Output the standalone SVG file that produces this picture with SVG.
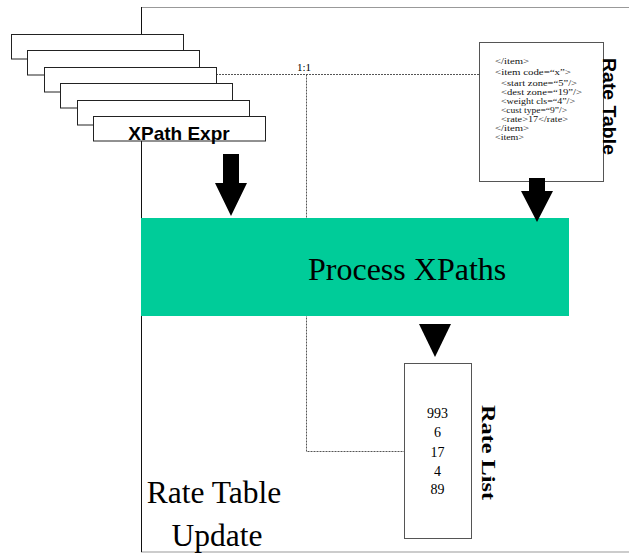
<svg xmlns="http://www.w3.org/2000/svg" width="629" height="554" viewBox="0 0 629 554">
  <style>
    .card { fill: #ffffff; stroke: #222222; stroke-width: 1; }
    .box { fill: #ffffff; stroke: #555555; stroke-width: 1; }
    .frame { stroke: #999999; stroke-width: 1.2; fill: none; }
    .dotted { stroke: #555555; stroke-width: 1; stroke-dasharray: 2 1; fill: none; }
    .arrow { fill: #000000; }
    .serif { font-family: "Liberation Serif", "Times New Roman", serif; fill: #000000; }
    .sans { font-family: "Liberation Sans", Arial, sans-serif; font-weight: bold; fill: #000000; }
    .xml { font-family: "Liberation Serif", "Times New Roman", serif; font-size: 9px; fill: #111111; }
  </style>

  <!-- outer frame -->
  <g id="frame">
    <line class="frame" x1="141" y1="7.5" x2="629" y2="7.5"/>
    <line class="frame" x1="141" y1="552" x2="629" y2="552"/>
    <line x1="141.5" y1="7" x2="141.5" y2="552" stroke="#111111" stroke-width="1"/>
  </g>

  <!-- connectors -->
  <g id="connectors">
    <polyline class="dotted" points="216,74.5 483,74.5"/>
    <polyline class="dotted" points="306.5,74.5 306.5,451.5 421,451.5"/>
  </g>

  <!-- stacked XPath expression cards -->
  <g id="xpath-expr">
    <rect class="card" x="11.5" y="34.5" width="172" height="24.5"/>
    <rect class="card" x="27.5" y="50.5" width="172" height="24.5"/>
    <rect class="card" x="44.5" y="67.5" width="172" height="24.5"/>
    <rect class="card" x="60.5" y="83.5" width="172" height="24.5"/>
    <rect class="card" x="77.5" y="100.5" width="172" height="24.5"/>
    <rect class="card" x="93.5" y="116.5" width="172" height="24.5"/>
    <text class="sans" x="179" y="139.5" font-size="19" text-anchor="middle">XPath Expr</text>
  </g>

  <g id="ratio-label">
    <text class="serif" x="297" y="71" font-size="11">1:1</text>
  </g>

  <!-- rate table document -->
  <g id="rate-table">
    <rect class="box" x="479.5" y="42.5" width="124" height="139"/>
    <text class="xml" x="495" y="63.5" textLength="34" lengthAdjust="spacingAndGlyphs">&lt;/item&gt;</text>
    <text class="xml" x="495" y="75" textLength="76" lengthAdjust="spacingAndGlyphs">&lt;item code=“x”&gt;</text>
    <text class="xml" x="501" y="85.5" textLength="76" lengthAdjust="spacingAndGlyphs">&lt;start zone=“5”/&gt;</text>
    <text class="xml" x="501" y="94.5" textLength="81" lengthAdjust="spacingAndGlyphs">&lt;dest zone=“19”/&gt;</text>
    <text class="xml" x="501" y="103.5" textLength="74" lengthAdjust="spacingAndGlyphs">&lt;weight cls=“4”/&gt;</text>
    <text class="xml" x="501" y="112.5" textLength="66" lengthAdjust="spacingAndGlyphs">&lt;cust type=“9”/&gt;</text>
    <text class="xml" x="501" y="121.5" textLength="67" lengthAdjust="spacingAndGlyphs">&lt;rate&gt;17&lt;/rate&gt;</text>
    <text class="xml" x="495" y="130.5" textLength="34" lengthAdjust="spacingAndGlyphs">&lt;/item&gt;</text>
    <text class="xml" x="495" y="139.5" textLength="29" lengthAdjust="spacingAndGlyphs">&lt;item&gt;</text>
    <text class="sans" font-size="18" textLength="97" lengthAdjust="spacingAndGlyphs" transform="translate(603,58) rotate(90)">Rate Table</text>
  </g>

  <!-- processing step -->
  <g id="process-xpaths">
    <rect x="141" y="218" width="428" height="98" fill="#00CC99"/>
    <text class="serif" x="308" y="280" font-size="32">Process XPaths</text>
  </g>

  <g id="arrows">
    <polygon class="arrow" points="223,154 239,154 239,183 247,183 231,216 215,183 223,183"/>
    <polygon class="arrow" points="529,178 545,178 545,191 553,191 537,222 521,191 529,191"/>
    <polygon class="arrow" points="419,324 451,324 435,357"/>
  </g>

  <!-- resulting rate list -->
  <g id="rate-list">
    <rect class="box" x="404.5" y="363.5" width="67" height="175"/>
    <g class="serif" font-size="14" text-anchor="middle">
      <text x="437.5" y="418">993</text>
      <text x="437.5" y="437">6</text>
      <text x="437.5" y="456.5">17</text>
      <text x="437.5" y="476">4</text>
      <text x="437.5" y="494">89</text>
    </g>
    <text class="serif" font-size="18" font-weight="bold" textLength="95" lengthAdjust="spacingAndGlyphs" transform="translate(482,405) rotate(90)">Rate List</text>
  </g>

  <g id="rate-table-update">
    <text class="serif" font-size="31.5" text-anchor="middle">
      <tspan x="218" y="503">Rate Table</tspan>
      <tspan x="217" y="546">Update</tspan>
    </text>
  </g>
</svg>
